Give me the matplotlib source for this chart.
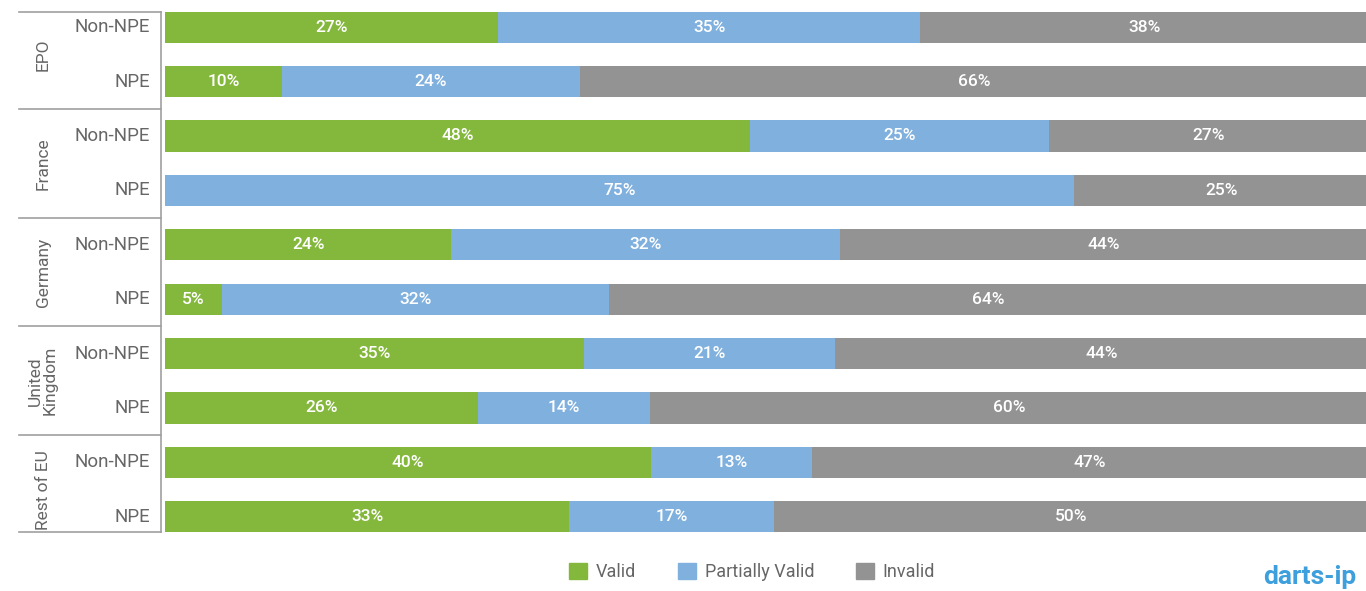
import numpy as np
import matplotlib
matplotlib.use("Agg")
import matplotlib.pyplot as plt
import matplotlib.transforms as mtransforms
from matplotlib.patches import Patch

plt.rcParams['font.family'] = ['Roboto', 'DejaVu Sans']

# data (share of decisions, % of each row)
groups = ["EPO", "France", "Germany", "United\nKingdom", "Rest of EU"]
rows = ["Non-NPE", "NPE"] * 5
valid = [27.7, 9.7, 48.6, 0.0, 23.8, 4.7, 34.8, 26.0, 40.4, 33.6]
partial = [35.1, 24.8, 24.9, 75.6, 32.3, 32.2, 20.9, 14.3, 13.4, 17.0]
invalid = [37.2, 65.5, 26.5, 24.4, 43.9, 63.1, 44.3, 59.7, 46.2, 49.4]
valid_lbl = ["27%", "10%", "48%", "", "24%", "5%", "35%", "26%", "40%", "33%"]
partial_lbl = ["35%", "24%", "25%", "75%", "32%", "32%", "21%", "14%", "13%", "17%"]
invalid_lbl = ["38%", "66%", "27%", "25%", "44%", "64%", "44%", "60%", "47%", "50%"]

c_valid = "#84b83c"
c_partial = "#7fb0de"
c_invalid = "#939393"
txt_grey = "#666666"
line_grey = "#a0a0a0"

fig = plt.figure(figsize=(13.66, 5.91), dpi=100)
ax = fig.add_axes([165 / 1366, 1 - 544 / 591, 1203 / 1366, 544 / 591])

y = np.arange(len(rows))
h = 0.57
left = np.zeros(len(rows))
for vals, lbls, col in [(valid, valid_lbl, c_valid),
                        (partial, partial_lbl, c_partial),
                        (invalid, invalid_lbl, c_invalid)]:
    vals = np.array(vals)
    ax.barh(y, vals, left=left, height=h, color=col, edgecolor="none")
    for i, (v, l) in enumerate(zip(vals, lbls)):
        if l and v > 0:
            ax.text(left[i] + v / 2, y[i], l, ha="center", va="center",
                    color="white", fontsize=12.5, fontweight="medium")
    left = left + vals

ax.set_xlim(0, 100)
ax.set_ylim(9.5, -0.5)
ax.axis("off")

# row labels and group frame
trans = mtransforms.blended_transform_factory(ax.transAxes, ax.transData)
x_line = (161 - 165) / 1203
x_lbl = (150 - 165) / 1203
x_start = (19 - 165) / 1203
x_grp = (43 - 165) / 1203
for i, r in enumerate(rows):
    ax.text(x_lbl, y[i], r, transform=trans, ha="right", va="center",
            color=txt_grey, fontsize=13.5, clip_on=False)

top = (12 - 27) / 54.4
bottom = (532 - 27) / 54.4
ax.plot([x_line, x_line], [top, bottom], transform=trans, color=line_grey,
        lw=1.2, clip_on=False)
for yy in [top, 1.5, 3.5, 5.5, 7.5, bottom]:
    ax.plot([x_start, x_line], [yy, yy], transform=trans, color=line_grey,
            lw=1.2, clip_on=False)
for g, name in enumerate(groups):
    ax.text(x_grp, 2 * g + 0.5, name, transform=trans, ha="center", va="center",
            rotation=90, color=txt_grey, fontsize=12.5, clip_on=False,
            linespacing=1.0)

handles = [Patch(color=c_valid, label="Valid"),
           Patch(color=c_partial, label="Partially Valid"),
           Patch(color=c_invalid, label="Invalid")]
leg = fig.legend(handles=handles, loc="center", ncol=3,
                 bbox_to_anchor=(752 / 1366, 1 - 572 / 591), frameon=False,
                 fontsize=13, handlelength=1.0, handleheight=1.0,
                 columnspacing=2.3, handletextpad=0.5)
for t in leg.get_texts():
    t.set_color(txt_grey)

fig.text(1310 / 1366, 1 - 577 / 591, "darts-ip", ha="center", va="center",
         color="#3d9fdc", fontsize=19, fontweight="bold")

fig.savefig("out.png", dpi=100)
